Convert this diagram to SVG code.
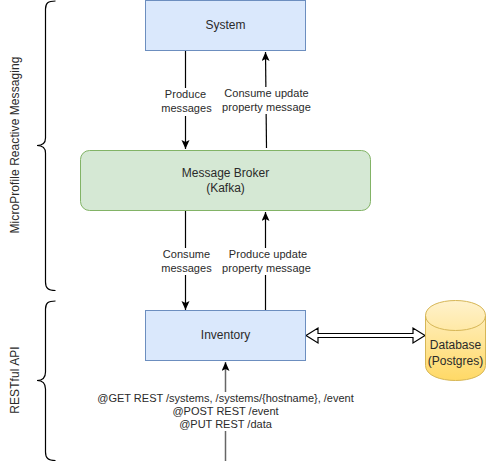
<svg xmlns="http://www.w3.org/2000/svg" width="486" height="469" viewBox="0 0 486 469">
<defs>
<marker id="arrow" markerUnits="userSpaceOnUse" markerWidth="10" markerHeight="10" refX="9" refY="4" orient="auto"><path d="M0 0L9 4L0 8L2 4Z" fill="#000"/></marker>
<linearGradient id="cyl" x1="0" y1="0" x2="0" y2="1"><stop offset="0" stop-color="#fff2cc"/><stop offset="1" stop-color="#ffd966"/></linearGradient>
</defs>
<style>
text{font-family:"Liberation Sans",Arial,sans-serif;font-size:12px;fill:#2a2a2a;text-anchor:middle}
.lbl{font-size:11px;letter-spacing:.05px}
.api{font-size:11px}
.side{letter-spacing:.07px}
.blue{fill:#dae8fc;stroke:#6c8ebf;stroke-width:1}
.line{fill:none;stroke:#000;stroke-width:1.2}
.brace{fill:none;stroke:#000;stroke-width:1.200}
</style>
<rect width="486" height="469" fill="#fff"/>
<g id="connectors">
<path class="line" d="M185.500 51V149" marker-end="url(#arrow)"/>
<path class="line" d="M266.500 148L265.500 52" marker-end="url(#arrow)"/>
<path class="line" d="M185.500 211V310" marker-end="url(#arrow)"/>
<path class="line" d="M265.500 310V212" marker-end="url(#arrow)"/>
<path class="line" d="M225.500 461V362" style="stroke:#666;stroke-width:1.500" marker-end="url(#arrow)"/>
<path d="M306 335.500L318 328V333.500H413V328L425 335.500L413 343V337.500H318V343Z" fill="#fff" stroke="#000" stroke-width="1.200"/>
<rect x="161" y="88" width="50" height="28" fill="#fff"/>
<rect x="222" y="87" width="92" height="27" fill="#fff"/>
<rect x="161" y="248" width="50" height="27" fill="#fff"/>
<rect x="222" y="248" width="92" height="27" fill="#fff"/>
<rect x="95" y="392" width="262" height="39" fill="#fff"/>
</g>
<g id="system"><rect class="blue" x="145.500" y="0.500" width="160" height="50"/><text x="225.500" y="29">System</text></g>
<g id="broker"><rect x="80.500" y="150.500" width="290" height="60" rx="9" fill="#d5e8d4" stroke="#82b366"/><text x="225.500" y="177">Message Broker</text><text x="225.500" y="192">(Kafka)</text></g>
<g id="inventory"><rect class="blue" x="145.500" y="310.500" width="160" height="50"/><text x="225.500" y="339">Inventory</text></g>
<g id="database"><path d="M425.500 315.500C425.500 295.500 485.500 295.500 485.500 315.500V365.500C485.500 385.500 425.500 385.500 425.500 365.500Z" fill="url(#cyl)" stroke="#d6b656"/><path d="M425.500 315.500C425.500 335.500 485.500 335.500 485.500 315.500" fill="none" stroke="#d6b656"/><text x="455.500" y="349">Database</text><text x="455.500" y="364.500">(Postgres)</text></g>
<g id="labels">
<text class="lbl" x="185.500" y="98">Produce</text><text class="lbl" x="186.500" y="112">messages</text>
<text class="lbl" x="266.500" y="97">Consume update</text><text class="lbl" x="266.500" y="111">property message</text>
<text class="lbl" x="186.500" y="258">Consume</text><text class="lbl" x="186.500" y="272">messages</text>
<text class="lbl" x="268" y="258">Produce update</text><text class="lbl" x="266.500" y="272">property message</text>
<text class="api" x="225.500" y="402">@GET REST /systems, /systems/{hostname}, /event</text>
<text class="api" x="225.500" y="415">@POST REST /event</text>
<text class="api" x="225.500" y="428">@PUT REST /data</text>
</g>
<g id="braces">
<path class="brace" d="M55.500 1C48 1 45.500 3 45.500 9V138C45.500 143 43 145.500 37 145.500C43 145.500 45.500 148 45.500 153V282C45.500 288 48 290.500 55.500 290.500"/>
<path class="brace" d="M55.500 301C48 301 45.500 303 45.500 309V372C45.500 377 43 380.500 37 380.500C43 380.500 45.500 384 45.500 389V452C45.500 458 48 460.500 55.500 460.500"/>
<text class="side" transform="translate(19 145) rotate(-90)">MicroProfile Reactive Messaging</text>
<text class="side" transform="translate(19 380) rotate(-90)">RESTful API</text>
</g>
</svg>
